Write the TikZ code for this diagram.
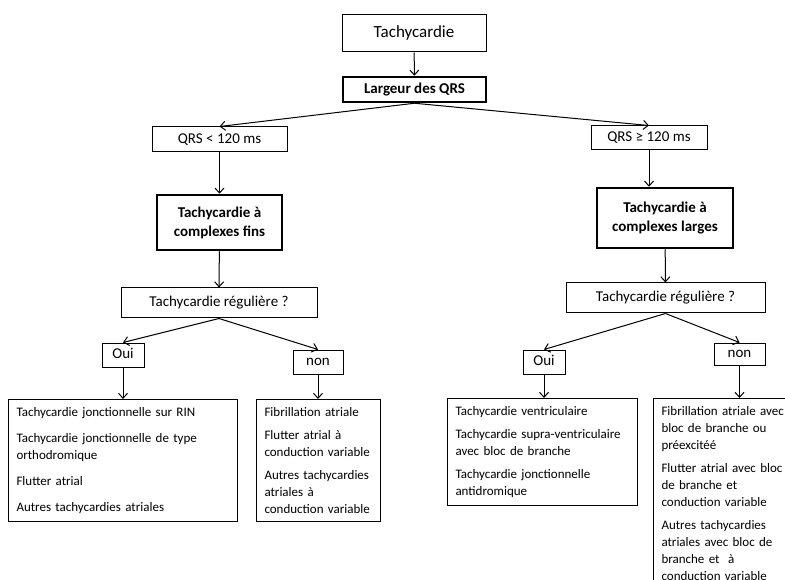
\documentclass[tikz,border=0pt]{standalone}
\usepackage{fontspec}
\setmainfont{Carlito}
\usetikzlibrary{arrows.meta}

\begin{document}
\begin{tikzpicture}[
        x=1pt, y=-1pt,
        box/.style={draw, line width=1pt, inner sep=0pt, text height=10.5pt, text depth=3pt, font=\fontsize{15}{19}\selectfont},
        keybox/.style={draw, line width=2.5pt, inner sep=0pt, align=center, font=\bfseries\fontsize{15}{19}\selectfont},
        listbox/.style={draw, line width=1pt, anchor=north west, align=left, inner xsep=8pt, inner ysep=8pt, font=\fontsize{13}{17}\selectfont},
        arr/.style={-{Straight Barb[length=5pt, width=9pt]}, line width=1pt}
    ]
    \useasboundingbox (0,0) rectangle (785,580);
    \clip (0,0) rectangle (785,580);

    % ---- TOP ----
    \node[box, minimum width=144pt, minimum height=37pt, text height=12pt, text depth=4pt, font=\fontsize{17}{20}\selectfont] (tachy) at (414,33.5) {Tachycardie};
    \node[keybox, minimum width=143pt, minimum height=25pt] (largeur) at (414.5,89.5) {Largeur des QRS};

    \draw[arr] (tachy) -- (largeur);

    % ---- LEFT BRANCH: QRS < 120 ms ----
    \node[box, minimum width=135pt, minimum height=25pt] (qrsfin) at (219.5,139.5) {QRS < 120 ms};
    \node[keybox, minimum width=125pt, minimum height=55pt] (fins) at (219.5,222.5) {Tachycardie à\\complexes fins};
    \node[box, minimum width=196pt, minimum height=30pt] (regfin) at (219,303) {Tachycardie régulière ?};
    \node[box, minimum width=42pt, minimum height=24pt] (ouifin) at (123,355) {Oui};
    \node[box, minimum width=50pt, minimum height=24pt] (nonfin) at (318,362) {non};

    \node[listbox, text width=213pt] (listouifin) at (8,399)
        {Tachycardie jonctionnelle sur RIN\\[9pt]
         Tachycardie jonctionnelle de type\\orthodromique\\[9pt]
         Flutter atrial\\[9pt]
         Autres tachycardies atriales};
    \node[listbox, text width=108pt] (listnonfin) at (256,399)
        {Fibrillation atriale\\[6pt]
         Flutter atrial à\\conduction variable\\[6pt]
         Autres tachycardies\\atriales à\\conduction variable};

    \draw[arr] (largeur.south) -- (qrsfin.north);
    \draw[arr] (qrsfin) -- (fins);
    \draw[arr] (fins) -- (regfin);
    \draw[arr] (regfin.south) -- (ouifin.north);
    \draw[arr] (regfin.south) -- (nonfin.north);
    \draw[arr] (ouifin.south) -- (ouifin.south |- listouifin.north);
    \draw[arr] (nonfin.south) -- (nonfin.south |- listnonfin.north);

    % ---- RIGHT BRANCH: QRS >= 120 ms ----
    \node[box, minimum width=116pt, minimum height=24pt] (qrslarge) at (649,138) {QRS ≥ 120 ms};
    \node[keybox, minimum width=136pt, minimum height=60pt] (larges) at (665,218) {Tachycardie à\\complexes larges};
    \node[box, minimum width=199pt, minimum height=30pt] (reglarge) at (665.5,298) {Tachycardie régulière ?};
    \node[box, minimum width=42pt, minimum height=24pt] (ouilarge) at (544,362) {Oui};
    \node[box, minimum width=51pt, minimum height=22pt] (nonlarge) at (739.5,354) {non};

    \node[listbox, text width=174pt] (listouilarge) at (447,398)
        {Tachycardie ventriculaire\\[6pt]
         Tachycardie supra-ventriculaire\\avec bloc de branche\\[6pt]
         Tachycardie jonctionnelle\\antidromique};
    \node[listbox, text width=140pt] (listnonlarge) at (653,398)
        {Fibrillation atriale avec\\bloc de branche ou\\préexcitéé\\[6pt]
         Flutter atrial avec bloc\\de branche et\\conduction variable\\[6pt]
         Autres tachycardies\\atriales avec bloc de\\branche et~ à\\conduction variable};

    \draw[arr] (largeur.south) -- (qrslarge.north);
    \draw[arr] (qrslarge.south) -- (qrslarge.south |- larges.north);
    \draw[arr] (larges) -- (reglarge);
    \draw[arr] (reglarge.south) -- (ouilarge.north);
    \draw[arr] (reglarge.south) -- (nonlarge.north);
    \draw[arr] (ouilarge.south) -- (ouilarge.south |- listouilarge.north);
    \draw[arr] (nonlarge.south) -- (nonlarge.south |- listnonlarge.north);

\end{tikzpicture}
\end{document}
